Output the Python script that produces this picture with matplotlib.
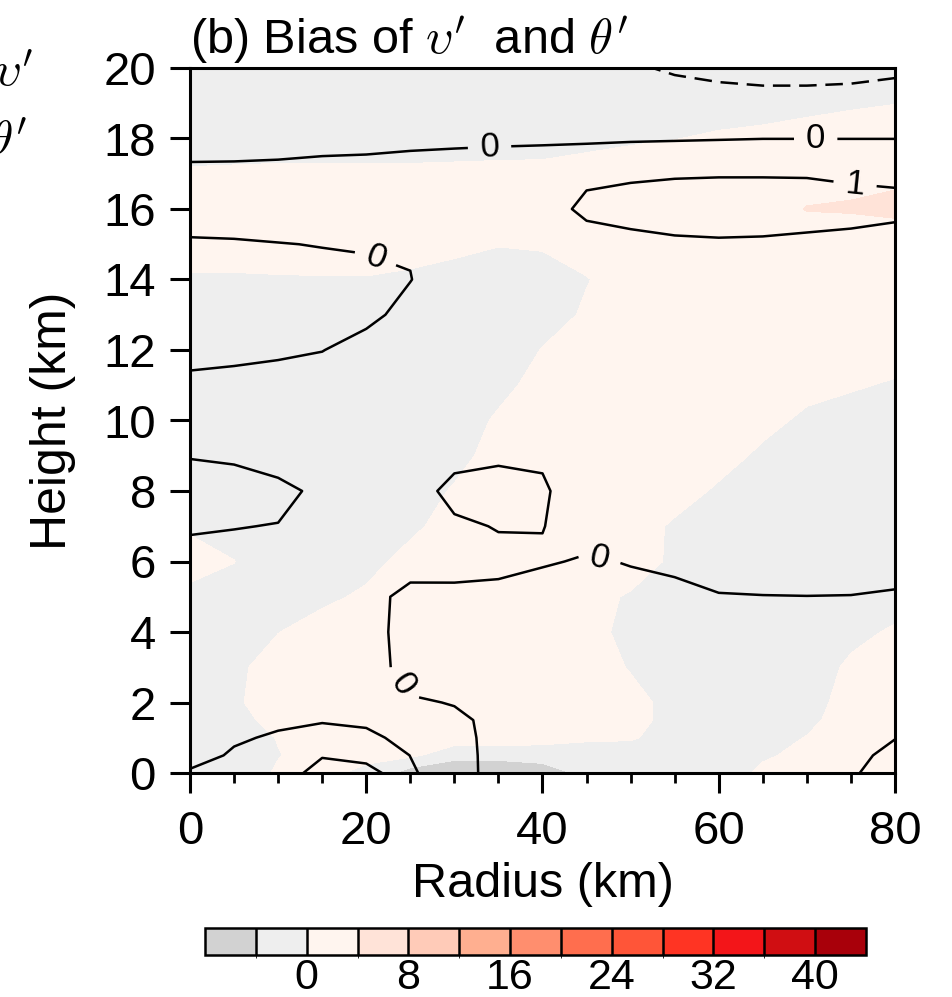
import numpy as np
import matplotlib
matplotlib.use("Agg")
import matplotlib.pyplot as plt
from matplotlib.colors import ListedColormap, BoundaryNorm

plt.rcParams['font.family'] = ['Liberation Sans', 'DejaVu Sans']
plt.rcParams['mathtext.fontset'] = 'cm'

# grid of the section (km)
radius = [0, 5, 10, 15, 20, 25, 30, 35, 40, 45, 50, 55, 60, 65, 70, 75, 80]
height = [0, 0.5, 1, 1.5, 2, 3, 4, 5, 6, 7, 8, 9, 10, 11, 12, 13, 14, 15, 16, 17, 18, 19, 20]

# shaded field: bias of v' (one list per radius, bottom -> top)
v_bias = [
    [-1.5, -1.5, -1.5, -1.5, -1.5, -1.5, -1.0, -0.4, 0.6, -0.2, -1.0, -1.5, -1.5, -1.5, -1.5, -1.0, -0.2, 0.8, 1.0, 0.4, -1.6, -2, -2],   # r=0
    [-1.5, -1.5, -1.2, -0.8, -0.3, -0.5, -1.0, -1.0, 0.05, -1.0, -1.5, -1.5, -1.5, -1.5, -1.5, -1.0, -0.2, 0.8, 1.0, 0.4, -1.2, -2, -2],  # r=5
    [0.3, -0.1, 0.1, 0.8, 1.0, 1.0, -0.05, -1.0, -1.5, -1.5, -1.5, -1.5, -1.5, -1.5, -1.5, -1.2, -0.1, 0.6, 1.0, 0.5, -1.2, -2, -2],      # r=10
    [0.5, 1.0, 1.2, 1.2, 1.2, 1.2, 1.0, -0.5, -1.5, -1.5, -1.5, -1.5, -1.5, -1.5, -1.5, -1.2, -0.1, 0.8, 1.0, 0.5, -1.2, -2, -2],         # r=15
    [-0.5, 0.5, 1.2, 1.3, 1.3, 1.3, 1.2, 0.4, -0.75, -1.5, -1.5, -1.5, -1.5, -1.5, -1.5, -1.3, -0.1, 0.9, 1.0, 0.5, -1.2, -2, -2],        # r=20
    [-6, 0.7, 1.2, 1.3, 1.3, 1.3, 1.3, 1.2, 0.8, -0.5, -1.5, -1.5, -1.5, -1.5, -1.5, -1.3, -0.3, 0.7, 1.0, 0.5, -1.2, -2, -2],            # r=25
    [-9, -2.0, 1.6, 1.3, 1.3, 1.3, 1.3, 1.3, 1.2, 1.0, 0.3, -1.0, -1.5, -1.5, -1.5, -1.5, -0.8, 0.55, 1.0, 0.5, -1.0, -2, -2],            # r=30
    [-9, -2.0, 1.6, 1.3, 1.3, 1.3, 1.3, 1.3, 1.3, 1.3, 1.3, 1.2, 0.4, -0.8, -1.5, -1.5, -1.2, 0.1, 1.0, 0.6, -1.0, -2, -2],               # r=35
    [-7, -1.5, 1.0, 1.2, 1.3, 1.3, 1.3, 1.3, 1.3, 1.3, 1.3, 1.3, 1.3, 1.0, 0.1, -1.0, -0.8, 0.2, 1.0, 0.7, -1.05, -2, -2],                # r=40
    [-2.5, -1.0, 0.3, 0.8, 1.0, 0.8, 0.6, 0.5, 0.8, 1.2, 1.2, 1.2, 1.2, 1.2, 1.2, 0.3, -0.1, 0.9, 1.2, 1.0, -0.67, -2, -2],               # r=45
    [-1.5, -1.0, 0.2, 0.5, 0.5, -0.11, -0.5, -0.16, 0.8, 1.0, 1.2, 1.2, 1.2, 1.2, 1.2, 1.2, 1.0, 1.2, 1.5, 1.0, -0.25, -2, -2],           # r=50
    [-1.5, -1.2, -0.8, -0.5, -0.5, -1.0, -1.2, -1.0, -0.3, -0.3, 0.9, 1.2, 1.2, 1.2, 1.2, 1.2, 1.2, 1.3, 1.6, 1.3, -0.05, -1.5, -2],      # r=55
    [-1.5, -1.5, -1.5, -1.5, -1.5, -1.5, -1.5, -1.5, -1.5, -1.2, -0.3, 0.8, 1.2, 1.2, 1.2, 1.2, 1.2, 1.3, 1.8, 1.4, 0.3, -1.0, -2],       # r=60
    [0.5, -0.3, -1.0, -1.5, -1.5, -1.5, -1.5, -1.5, -1.5, -1.5, -1.2, -0.4, 0.6, 1.2, 1.2, 1.2, 1.2, 1.2, 1.8, 1.5, 0.5, -0.8, -2],       # r=65
    [1.0, 0.6, 0.1, -0.6, -1.0, -1.2, -1.5, -1.5, -1.5, -1.5, -1.5, -1.2, -0.4, 0.6, 1.2, 1.2, 1.2, 1.2, 4.2, 2.0, 0.6, -0.4, -2],        # r=70
    [1.5, 1.5, 1.3, 1.2, 1.0, 0.4, -0.6, -1.5, -1.5, -1.5, -1.5, -1.5, -0.8, 0.2, 1.0, 1.2, 1.2, 1.2, 4.4, 2.8, 1.0, -0.25, -2],          # r=75
    [1.5, 1.5, 1.5, 1.5, 1.3, 1.0, 0.3, -1.0, -1.5, -1.5, -1.5, -1.5, -1.2, -0.2, 0.8, 1.2, 1.2, 1.2, 5.0, 3.15, 1.5, -0.05, -1.5],       # r=80
]

# contoured field: bias of theta' (one list per radius, bottom -> top)
theta_bias = [
    [1.1, 0.68, 0.6, 0.55, 0.5, 0.4, 0.35, 0.3, 0.15, -0.05, -0.2, 0.02, 0.1, 0.05, -0.07, -0.15, -0.15, -0.03, 0.12, 0.08, -0.16, -0.4, -0.6],
    [1.3, 1.1, 0.9, 0.75, 0.65, 0.5, 0.4, 0.3, 0.2, -0.02, -0.15, 0.05, 0.12, 0.06, -0.05, -0.12, -0.12, -0.02, 0.11, 0.07, -0.13, -0.4, -0.6],
    [1.6, 1.4, 1.1, 0.85, 0.7, 0.55, 0.45, 0.35, 0.2, 0.02, -0.18, 0.3, 0.25, 0.1, -0.04, -0.15, -0.15, -0.01, 0.19, 0.1, -0.15, -0.4, -0.6],
    [2.3, 1.95, 1.4, 0.92, 0.8, 0.6, 0.5, 0.4, 0.3, 0.2, 0.15, 0.3, 0.35, 0.2, -0.01, -0.12, -0.1, 0.011, 0.2, 0.1, -0.1, -0.35, -0.55],
    [2.5, 1.57, 1.3, 0.76, 0.65, 0.5, 0.4, 0.3, 0.3, 0.3, 0.3, 0.35, 0.35, 0.3, 0.15, -0.1, -0.08, 0.03, 0.25, 0.12, -0.1, -0.35, -0.55],
    [1.1, 0.99, 0.6, 0.3, 0.1, -0.4, -0.4, -0.25, 0.37, 0.2, 0.3, 0.35, 0.35, 0.3, 0.25, 0.13, -0.01, 0.03, 0.3, 0.12, -0.065, -0.3, -0.5],
    [0.54, 0.45, 0.3, 0.15, -0.04, -0.4, -0.45, -0.2, 0.3, 0.1, -0.19, 0.19, 0.3, 0.35, 0.35, 0.3, 0.24, 0.3, 0.4, 0.15, -0.06, -0.3, -0.5],
    [-0.46, -0.4, -0.3, -0.2, -0.35, -0.5, -0.5, -0.15, 0.15, -0.03, -0.1, 0.04, 0.25, 0.35, 0.4, 0.4, 0.4, 0.45, 0.6, 0.2, -0.06, -0.3, -0.6],
    [-0.5, -0.5, -0.5, -0.5, -0.5, -0.55, -0.55, -0.5, 0.1, -0.025, -0.1, 0.1, 0.3, 0.4, 0.45, 0.5, 0.5, 0.55, 0.8, 0.25, -0.06, -0.35, -0.65],
    [-0.5, -0.5, -0.5, -0.5, -0.5, -0.5, -0.5, -0.4, -0.1, 0.4, 0.45, 0.5, 0.5, 0.55, 0.6, 0.65, 0.7, 0.8, 1.1, 0.91, -0.16, -0.5, -0.85],
    [-0.5, -0.5, -0.5, -0.5, -0.5, -0.55, -0.5, -0.3, 0.05, 0.3, 0.5, 0.55, 0.55, 0.6, 0.65, 0.7, 0.75, 0.85, 1.2, 0.93, -0.1, -0.55, -0.95],
    [-0.5, -0.5, -0.5, -0.5, -0.5, -0.5, -0.5, -0.15, 0.12, 0.35, 0.5, 0.55, 0.6, 0.6, 0.65, 0.7, 0.75, 0.9, 1.3, 0.95, -0.07, -0.8, -1.05],
    [-0.5, -0.5, -0.5, -0.5, -0.5, -0.5, -0.4, -0.05, 0.4, 0.5, 0.55, 0.6, 0.6, 0.65, 0.65, 0.7, 0.75, 0.92, 1.35, 0.96, -0.04, -0.85, -1.1],
    [-0.5, -0.5, -0.5, -0.5, -0.5, -0.5, -0.4, -0.02, 0.4, 0.5, 0.55, 0.6, 0.6, 0.65, 0.65, 0.7, 0.75, 0.9, 1.35, 0.96, -0.01, -0.85, -1.15],
    [-0.45, -0.45, -0.45, -0.45, -0.45, -0.45, -0.4, -0.01, 0.4, 0.5, 0.5, 0.55, 0.6, 0.6, 0.65, 0.65, 0.7, 0.8, 1.4, 0.945, -0.01, -0.85, -1.15],
    [-0.1, -0.2, -0.3, -0.35, -0.4, -0.45, -0.4, -0.02, 0.4, 0.5, 0.5, 0.55, 0.6, 0.6, 0.65, 0.65, 0.7, 0.8, 1.25, 0.9, -0.01, -0.85, -1.12],
    [0.4, 0.2, -0.02, -0.2, -0.3, -0.4, -0.35, -0.08, 0.3, 0.45, 0.5, 0.55, 0.55, 0.6, 0.6, 0.65, 0.7, 0.75, 1.15, 0.9, -0.01, -0.85, -1.06],
]

shade_levels = [-4, 0, 4, 8, 12, 16, 20, 24, 28, 32, 36, 40]
shade_colors = ['#d2d2d2', '#eeeeee', '#fff5ef', '#ffe3d8', '#ffcbb8', '#ffaf90',
                '#ff8e6e', '#ff6e4e', '#ff5538', '#ff3423', '#f31519', '#d00e12', '#a8000a']
cbar_ticks = [0, 8, 16, 24, 32, 40]
neg_levels = [-1]
pos_levels = [0, 1, 2]

R, Z = np.meshgrid(radius, height)
V = np.array(v_bias).T
T = np.array(theta_bias).T

fig = plt.figure(figsize=(9.53, 9.97), dpi=100)
ax = fig.add_axes([190/953, 1-773/997, 705/953, 705/997])

cmap = ListedColormap(shade_colors[1:-1])
cmap.set_under(shade_colors[0])
cmap.set_over(shade_colors[-1])
norm = BoundaryNorm(shade_levels, cmap.N)
cf = ax.contourf(R, Z, V, levels=shade_levels, cmap=cmap, norm=norm, extend='both')

ax.contour(R, Z, T, levels=neg_levels, colors='black', linewidths=1.8,
           linestyles=[(0, (7, 3.5))])
cs = ax.contour(R, Z, T, levels=pos_levels, colors='black', linewidths=1.8,
                linestyles='solid')
ax.clabel(cs, pos_levels, fmt='%d', fontsize=25, inline=True, inline_spacing=12,
          manual=[(34, 17.7), (71, 18.0), (75.5, 16.8), (21.2, 14.7), (46.5, 6.15), (24.2, 2.5)])

ax.set_xlim(0, 80)
ax.set_ylim(0, 20)
ax.set_xticks([0, 20, 40, 60, 80])
ax.set_xticks(np.arange(0, 81, 5), minor=True)
ax.set_yticks(np.arange(0, 21, 2))
ax.tick_params(axis='both', which='major', direction='out', length=14.5, width=2.2,
               labelsize=34, top=False, right=False)
ax.tick_params(axis='x', which='major', pad=12)
ax.tick_params(axis='y', which='major', pad=10)
ax.tick_params(axis='x', which='minor', direction='out', length=7, width=2.0)
for s in ax.spines.values():
    s.set_linewidth(2.2)

ax.set_xlabel('Radius (km)', fontsize=35, labelpad=6)
ax.set_ylabel('Height (km)', fontsize=36, labelpad=20)
ax.set_title(r"(b) Bias of $\upsilon'$  and $\theta'$", loc='left', fontsize=35, pad=10)

# pieces of the neighbouring panel cut by the left edge (as in the source figure)
fig.text(33/953, 1-74/997, r"$\upsilon'$", ha='right', va='center', fontsize=34)
fig.text(28/953, 1-142/997, r"$\theta'$", ha='right', va='center', fontsize=34)

cax = fig.add_axes([205/953, 1-955/997, 661/953, 27/997])
cb = fig.colorbar(cf, cax=cax, orientation='horizontal', ticks=cbar_ticks,
                  extendrect=True, extendfrac=1/11, drawedges=True)
cb.outline.set_linewidth(1.8)
cb.dividers.set_linewidth(1.8)
cb.ax.tick_params(length=0, labelsize=31, pad=2)

fig.savefig('out.png', dpi=100)
